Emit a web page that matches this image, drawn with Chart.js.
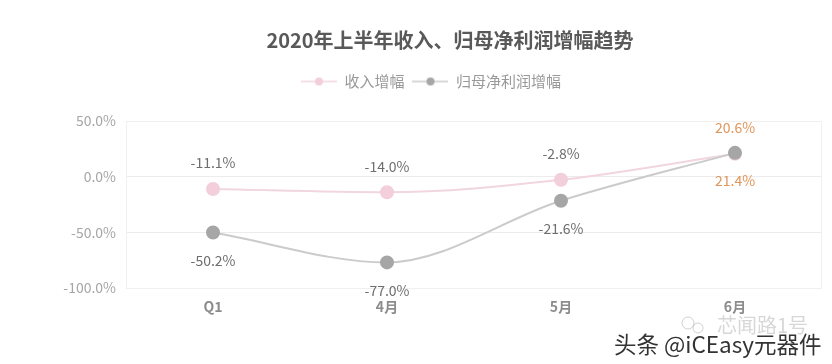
<!DOCTYPE html>
<html>
<head>
<meta charset="utf-8">
<script src="https://cdn.jsdelivr.net/npm/chart.js@4.4.1/dist/chart.umd.min.js"></script>
<style>
  html, body { margin: 0; padding: 0; background: #fff; }
  #wrap { width: 832px; height: 364px; position: relative; }
</style>
</head>
<body>
<div id="wrap"><canvas id="trend"></canvas></div>
<script>
// data
const categories = ['Q1', '4月', '5月', '6月'];
const revenueGrowth = [-11.1, -14.0, -2.8, 20.6];
const profitGrowth = [-50.2, -77.0, -21.6, 21.4];
const yTicks = [50, 0, -50, -100];

const FONT = '"Noto Sans CJK SC", "Noto Sans", sans-serif';
const PINK = '#f2cfda';
const PINK_LINE = '#f1d6df';
const GRAY = '#a6a6a6';
const GRAY_LINE = '#cbcbcb';

// legend marker: short line with a dot in the middle
function legendMarker(lineColor, dotColor) {
  const c = document.createElement('canvas');
  c.width = 36;
  c.height = 12;
  const ctx = c.getContext('2d');
  ctx.strokeStyle = lineColor;
  ctx.lineWidth = 1.5;
  ctx.beginPath();
  ctx.moveTo(0, 6);
  ctx.lineTo(36, 6);
  ctx.stroke();
  ctx.fillStyle = dotColor;
  ctx.beginPath();
  ctx.arc(18, 6, 4, 0, Math.PI * 2);
  ctx.fill();
  return c;
}

// push title and legend right, leave a gap under the legend
const headerLayout = {
  id: 'headerLayout',
  afterInit(chart) {
    const leg = chart.legend;
    const fit = leg.fit;
    leg.fit = function () {
      fit.call(this);
      this.height += 22;
    };
  },
  afterLayout(chart) {
    chart.titleBlock.left += 39;
    chart.titleBlock.right += 39;
    chart.legend.left += 20;
    chart.legend.right += 20;
  }
};

// value labels: revenue above, profit below, last month in orange
const valueLabels = {
  id: 'valueLabels',
  afterDatasetsDraw(chart) {
    const ctx = chart.ctx;
    ctx.save();
    ctx.font = '14px ' + FONT;
    ctx.textAlign = 'center';
    ctx.textBaseline = 'middle';
    chart.data.datasets.forEach((ds, di) => {
      const meta = chart.getDatasetMeta(di);
      meta.data.forEach((pt, i) => {
        const last = i === ds.data.length - 1;
        ctx.fillStyle = last ? '#e0955a' : '#6e6e6e';
        const dy = di === 0 ? -26 : 28;
        ctx.fillText(ds.data[i].toFixed(1) + '%', pt.x, pt.y + dy);
      });
    });
    ctx.restore();
  }
};

// watermark in the corner
const watermark = {
  id: 'watermark',
  afterDraw(chart) {
    const ctx = chart.ctx;
    ctx.save();
    ctx.textBaseline = 'middle';
    ctx.textAlign = 'left';
    ctx.font = '20px ' + FONT;
    ctx.fillStyle = 'rgba(140,140,140,0.35)';
    ctx.fillText('芯闻路1号', 717, 325);
    ctx.strokeStyle = 'rgba(140,140,140,0.4)';
    ctx.lineWidth = 1;
    ctx.beginPath();
    ctx.arc(688, 323, 6, 0, Math.PI * 2);
    ctx.stroke();
    ctx.beginPath();
    ctx.arc(698, 328, 5, 0, Math.PI * 2);
    ctx.stroke();
    ctx.font = '22.5px ' + FONT;
    ctx.lineWidth = 3;
    ctx.strokeStyle = '#fff';
    ctx.strokeText('头条 @iCEasy元器件', 614, 344);
    ctx.fillStyle = '#333';
    ctx.fillText('头条 @iCEasy元器件', 614, 344);
    ctx.restore();
  }
};

// thin frame round the plot area
const plotFrame = {
  id: 'plotFrame',
  beforeDatasetsDraw(chart) {
    const { ctx, chartArea: a } = chart;
    ctx.save();
    ctx.strokeStyle = '#f0f0f0';
    ctx.lineWidth = 1;
    ctx.strokeRect(a.left + 0.5, a.top + 0.5, a.right - a.left - 1, a.bottom - a.top);
    ctx.restore();
  }
};

new Chart(document.getElementById('trend'), {
  type: 'line',
  data: {
    labels: categories,
    datasets: [{
      label: '收入增幅',
      data: revenueGrowth,
      order: 1,
      borderColor: PINK_LINE,
      backgroundColor: PINK,
      pointBackgroundColor: PINK,
      pointBorderColor: PINK,
      borderWidth: 2,
      pointRadius: 6,
      cubicInterpolationMode: 'monotone',
      tension: 0.4
    }, {
      label: '归母净利润增幅',
      data: profitGrowth,
      order: 0,
      borderColor: GRAY_LINE,
      backgroundColor: GRAY,
      pointBackgroundColor: GRAY,
      pointBorderColor: GRAY,
      borderWidth: 2,
      pointRadius: 6,
      cubicInterpolationMode: 'monotone',
      tension: 0.4
    }]
  },
  options: {
    responsive: true,
    maintainAspectRatio: false,
    animation: false,
    layout: { padding: { left: 0, right: 10, bottom: 0 } },
    plugins: {
      title: {
        display: true,
        text: '2020年上半年收入、归母净利润增幅趋势',
        color: '#595959',
        font: { family: FONT, size: 20, weight: 'bold' },
        padding: { top: 28, bottom: 14 }
      },
      legend: {
        labels: {
          color: '#999999',
          font: { family: FONT, size: 15 },
          usePointStyle: true,
          pointStyleWidth: 36,
          padding: 8,
          generateLabels(chart) {
            return chart.data.datasets.map((ds, i) => ({
              text: ds.label,
              fontColor: '#999999',
              pointStyle: i === 0 ? legendMarker(PINK_LINE, PINK) : legendMarker(GRAY_LINE, GRAY),
              datasetIndex: i,
              lineWidth: 0,
              strokeStyle: 'transparent',
              fillStyle: 'transparent'
            }));
          }
        }
      },
      tooltip: { enabled: false }
    },
    scales: {
      x: {
        offset: true,
        grid: { display: false },
        border: { display: false },
        ticks: {
          color: '#8c8c8c',
          font: { family: FONT, size: 14, weight: 'bold' },
          padding: 2
        },
        afterFit(scale) { scale.height = 76; }
      },
      y: {
        min: -100,
        max: 50,
        afterBuildTicks(scale) {
          scale.ticks = yTicks.map(v => ({ value: v }));
        },
        grid: { color: '#ececec', drawTicks: false },
        border: { display: false },
        ticks: {
          color: '#a6a6a6',
          font: { family: FONT, size: 14 },
          padding: 10,
          callback: v => v.toFixed(1) + '%'
        },
        afterFit(scale) { scale.width = 126; }
      }
    }
  },
  plugins: [headerLayout, plotFrame, valueLabels, watermark]
});
</script>
</body>
</html>
